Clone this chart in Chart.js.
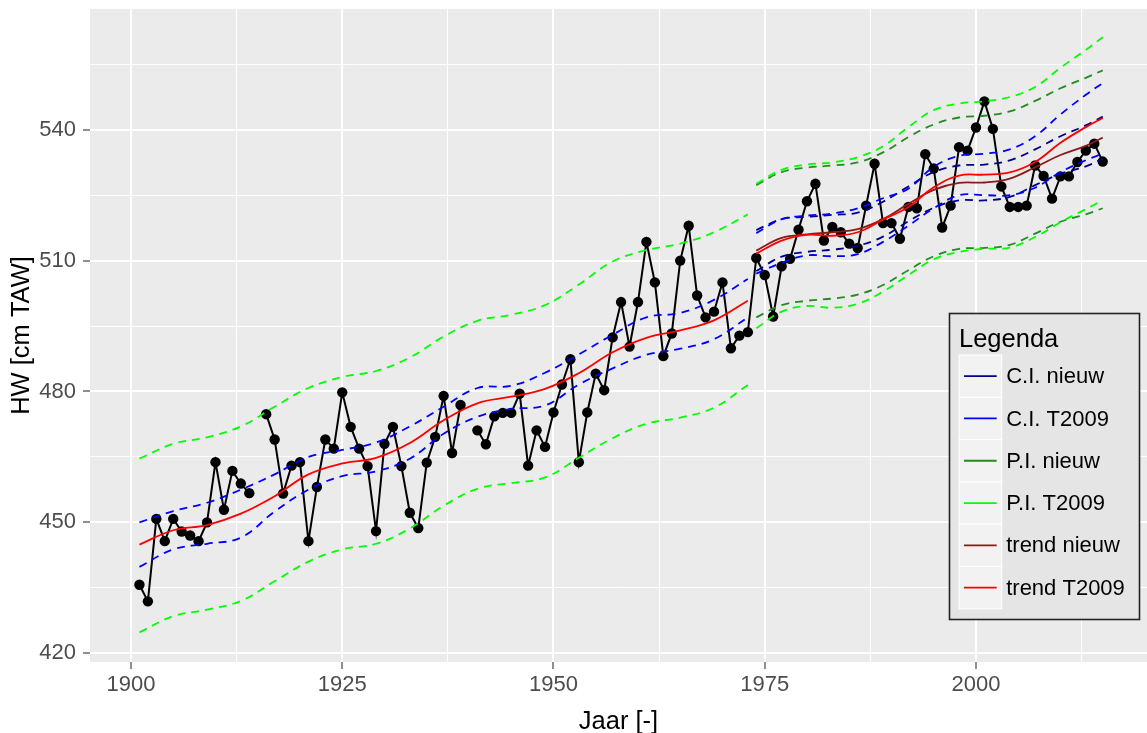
<!DOCTYPE html>
<html>
<head>
<meta charset="utf-8">
<title>HW Oostende</title>
<script src="https://cdn.jsdelivr.net/npm/chart.js@4.4.1/dist/chart.umd.min.js"></script>
<style>
  html, body { margin: 0; padding: 0; background: #ffffff; }
  #wrap { width: 1147px; height: 733px; }
</style>
</head>
<body>
<div id="wrap"><canvas id="hwChart"></canvas></div>
<script>
// jaarlijks gemiddeld hoogwater (cm TAW), 1901 t/m 2015; null = geen meting
const firstYear = 1901;
const obsHW = [
  435.7, 431.9, 450.8, 445.7, 450.8, 447.9, 447.0, 445.7, 450.0, 463.8, // 1901-1910
  452.9, 461.8, 458.9, 456.7, null,  474.8, 469.0, 456.6, 463.0, 463.8, // 1911-1920
  445.7, 458.1, 469.0, 466.9, 479.8, 471.9, 466.9, 462.9, 448.0, 468.0, // 1921-1930
  471.9, 462.9, 452.2, 448.7, 463.7, 469.6, 479.0, 465.9, 476.9, null,  // 1931-1940
  471.1, 467.9, 474.3, 475.1, 475.1, 479.5, 463.0, 471.1, 467.3, 475.2, // 1941-1950
  481.6, 487.4, 463.8, 475.2, 484.1, 480.3, 492.4, 500.5, 490.3, 500.5, // 1951-1960
  514.3, 505.0, 488.1, 493.3, 510.0, 518.0, 502.0, 497.0, 498.3, 505.0, // 1961-1970
  489.9, 492.8, 493.6, 510.6, 506.7, 497.2, 508.7, 510.4, 517.1, 523.6, // 1971-1980
  527.6, 514.6, 517.7, 516.5, 513.9, 512.9, 522.6, 532.2, 518.6, 518.6, // 1981-1990
  515.0, 522.3, 522.0, 534.4, 531.1, 517.6, 522.6, 536.0, 535.2, 540.5, // 1991-2000
  546.5, 540.2, 527.0, 522.3, 522.3, 522.6, 531.8, 529.4, 524.2, 529.3, // 2001-2010
  529.3, 532.6, 535.2, 536.8, 532.7                                     // 2011-2015
];

// model T2009: periode 1 (tot 1973) en periode 2 (vanaf 1974)
const yearsP1 = [1901, 1905, 1909, 1913, 1917, 1921, 1925, 1929, 1933, 1937, 1941, 1945, 1949, 1953, 1957, 1961, 1965, 1969, 1973];
const yearsP2 = [1974, 1977, 1980, 1983, 1986, 1989, 1992, 1995, 1998, 2001, 2004, 2007, 2010, 2013, 2015];

const trendT2009P1 = [444.9, 448.2, 449.4, 452.0, 456.0, 461.0, 463.5, 464.8, 468.2, 473.4, 477.3, 478.8, 480.6, 484.2, 489.0, 492.3, 494.0, 496.3, 500.8];
const ciUpT2009P1  = [450.0, 452.6, 454.5, 457.5, 461.0, 465.0, 466.6, 468.3, 472.0, 476.5, 480.8, 481.3, 484.3, 488.5, 493.0, 497.0, 498.0, 501.0, 505.8];
const ciLoT2009P1  = [439.8, 443.8, 445.1, 446.5, 452.5, 457.5, 460.6, 461.7, 464.6, 470.3, 474.2, 476.0, 476.8, 481.6, 485.3, 488.4, 489.8, 492.0, 497.0];
const piUpT2009P1  = [464.6, 468.0, 469.5, 472.0, 476.5, 480.8, 483.3, 484.7, 487.8, 492.6, 496.2, 497.6, 499.8, 504.5, 509.8, 512.4, 513.9, 516.5, 520.6];
const piLoT2009P1  = [424.8, 428.5, 430.0, 432.0, 436.5, 441.0, 443.8, 445.1, 448.6, 453.8, 457.7, 459.0, 460.3, 464.8, 469.3, 472.6, 474.0, 476.3, 481.5];

const trendT2009P2 = [511.6, 514.6, 515.9, 515.7, 516.5, 519.4, 522.3, 526.8, 529.5, 529.7, 530.2, 532.6, 537.0, 540.6, 542.7];
const ciUpT2009P2  = [516.3, 519.5, 520.3, 520.8, 522.0, 524.3, 526.5, 531.5, 534.0, 534.5, 535.5, 538.5, 543.5, 548.0, 550.7];
const ciLoT2009P2  = [507.0, 509.5, 511.2, 511.0, 511.5, 514.3, 518.0, 522.0, 525.0, 525.0, 525.0, 526.7, 530.3, 533.0, 534.5];
const piUpT2009P2  = [527.6, 530.8, 532.0, 532.5, 533.7, 536.2, 540.6, 544.5, 546.0, 546.5, 547.5, 549.8, 554.2, 558.3, 561.2];
const piLoT2009P2  = [494.5, 498.3, 499.6, 499.2, 500.1, 502.9, 506.7, 510.3, 512.0, 512.7, 513.0, 515.4, 518.8, 521.8, 523.8];

// nieuw model (alleen vanaf 1974)
const trendNieuw = [512.3, 515.2, 516.0, 516.5, 517.2, 519.5, 523.0, 526.2, 527.8, 527.9, 528.8, 531.4, 534.2, 536.3, 538.2];
const ciUpNieuw  = [517.0, 519.5, 520.0, 520.5, 521.0, 523.5, 527.0, 530.3, 531.8, 532.0, 533.0, 535.5, 538.5, 541.0, 543.0];
const ciLoNieuw  = [507.6, 510.9, 512.0, 512.5, 513.4, 515.5, 519.0, 522.1, 523.8, 523.8, 524.6, 527.3, 529.9, 531.6, 533.4];
const piUpNieuw  = [527.3, 530.3, 531.3, 531.8, 532.5, 534.8, 538.3, 541.2, 542.8, 543.2, 544.2, 546.6, 549.5, 551.9, 553.6];
const piLoNieuw  = [497.0, 499.8, 500.8, 501.3, 502.2, 504.4, 507.8, 511.0, 512.7, 512.9, 513.6, 516.2, 518.9, 520.6, 522.0];

// as-indeling (hoofd- en hulplijnen)
const xMajor = [1900, 1925, 1950, 1975, 2000];
const xMinor = [1912.5, 1937.5, 1962.5, 1987.5, 2012.5];
const yMajor = [420, 450, 480, 510, 540];
const yMinor = [435, 465, 495, 525, 555];

const legendTitle = 'Legenda';
const legendLabels = ['C.I. nieuw', 'C.I. T2009', 'P.I. nieuw', 'P.I. T2009', 'trend nieuw', 'trend T2009'];
const legendColors = ['#00008B', '#0000FF', '#228B22', '#00FF00', '#8B1A1A', '#FF0000'];

const FONT = '"Liberation Sans", Arial, sans-serif';

function pts(xs, ys) {
  return xs.map((x, i) => ({ x: x, y: ys[i] }));
}
// beide periodes in een dataset, met een onderbreking tussen 1973 en 1974
function twoPeriods(p1, p2) {
  return pts(yearsP1, p1).concat([{ x: 1973.5, y: null }], pts(yearsP2, p2));
}

const obsData = obsHW.map((v, i) => ({ x: firstYear + i, y: v }));

function curve(label, data, color, dashed) {
  return {
    label: label,
    data: data,
    borderColor: color,
    borderWidth: 1.8,
    borderDash: dashed ? [8, 6] : [],
    pointRadius: 0,
    tension: 0.4,
    spanGaps: false,
    fill: false
  };
}

const datasets = [
  curve('trend T2009', twoPeriods(trendT2009P1, trendT2009P2), legendColors[5], false),
  curve('trend nieuw', pts(yearsP2, trendNieuw), legendColors[4], false),
  curve('C.I. T2009 boven', twoPeriods(ciUpT2009P1, ciUpT2009P2), legendColors[1], true),
  curve('C.I. T2009 onder', twoPeriods(ciLoT2009P1, ciLoT2009P2), legendColors[1], true),
  curve('C.I. nieuw boven', pts(yearsP2, ciUpNieuw), legendColors[0], true),
  curve('C.I. nieuw onder', pts(yearsP2, ciLoNieuw), legendColors[0], true),
  curve('P.I. T2009 boven', twoPeriods(piUpT2009P1, piUpT2009P2), legendColors[3], true),
  curve('P.I. T2009 onder', twoPeriods(piLoT2009P1, piLoT2009P2), legendColors[3], true),
  curve('P.I. nieuw boven', pts(yearsP2, piUpNieuw), legendColors[2], true),
  curve('P.I. nieuw onder', pts(yearsP2, piLoNieuw), legendColors[2], true),
  {
    label: 'HW',
    data: obsData,
    borderColor: '#000000',
    borderWidth: 2,
    backgroundColor: '#000000',
    pointRadius: 5.2,
    pointBorderWidth: 0,
    tension: 0,
    spanGaps: false
  }
];

// grijze ggplot-achtergrond achter het plotvlak
const panelBackground = {
  id: 'panelBackground',
  beforeDraw(chart) {
    const { ctx, chartArea: a } = chart;
    ctx.save();
    ctx.fillStyle = '#EBEBEB';
    ctx.fillRect(a.left, a.top, a.right - a.left, a.bottom - a.top);
    ctx.restore();
  }
};

// legende rechtsonder in het plotvlak
const legendBox = {
  id: 'legendBox',
  afterDraw(chart) {
    const { ctx, chartArea: a } = chart;
    const bx = a.right - 197.5, by = a.bottom - 348.5, bw = 190, bh = 306;
    const keyX = bx + 9.5, keyY = by + 41.5, keyW = 42.7, keyH = 42.3;
    ctx.save();
    ctx.fillStyle = '#E5E5E5';
    ctx.fillRect(bx, by, bw, bh);
    ctx.strokeStyle = '#222222';
    ctx.lineWidth = 1.6;
    ctx.strokeRect(bx, by, bw, bh);

    ctx.fillStyle = '#000000';
    ctx.font = '25.5px ' + FONT;
    ctx.textBaseline = 'alphabetic';
    ctx.textAlign = 'left';
    ctx.fillText(legendTitle, keyX, by + 33.5);

    legendLabels.forEach((lbl, i) => {
      const ky = keyY + i * keyH;
      ctx.fillStyle = '#F2F2F2';
      ctx.fillRect(keyX, ky, keyW, keyH);
      ctx.strokeStyle = '#FFFFFF';
      ctx.lineWidth = 1;
      ctx.strokeRect(keyX, ky, keyW, keyH);
      ctx.strokeStyle = legendColors[i];
      ctx.lineWidth = 1.8;
      ctx.beginPath();
      ctx.moveTo(keyX + 5, ky + keyH / 2);
      ctx.lineTo(keyX + keyW - 5, ky + keyH / 2);
      ctx.stroke();
      ctx.fillStyle = '#000000';
      ctx.font = '22px ' + FONT;
      ctx.textBaseline = 'middle';
      ctx.fillText(lbl, keyX + keyW + 4.5, ky + keyH / 2 + 1);
    });
    ctx.restore();
  }
};

function gridWidth(major) {
  return (c) => (c.tick && major.includes(c.tick.value)) ? 2 : 1;
}
function tickColor(major) {
  return (c) => (c.tick && major.includes(c.tick.value)) ? '#333333' : 'rgba(0,0,0,0)';
}

new Chart(document.getElementById('hwChart'), {
  type: 'line',
  data: { datasets: datasets },
  options: {
    responsive: true,
    maintainAspectRatio: false,
    animation: false,
    layout: { autoPadding: false, padding: { top: 9, right: 0, bottom: 0, left: 0 } },
    plugins: {
      legend: { display: false },
      tooltip: { enabled: false }
    },
    scales: {
      x: {
        type: 'linear',
        min: 1895.15,
        max: 2020.24,
        afterBuildTicks: (axis) => {
          axis.ticks = xMajor.concat(xMinor).sort((a, b) => a - b).map(v => ({ value: v }));
        },
        afterFit: (axis) => {
          axis.height = 71;
          axis.paddingLeft = 0;
          axis.paddingRight = 0;
        },
        border: { display: false },
        grid: {
          color: '#FFFFFF',
          lineWidth: gridWidth(xMajor),
          tickLength: 7,
          tickColor: tickColor(xMajor),
          tickWidth: 1.1
        },
        ticks: {
          autoSkip: false,
          maxRotation: 0,
          padding: 3,
          color: '#4D4D4D',
          font: { family: FONT, size: 22 },
          callback: (v) => xMajor.includes(v) ? String(v) : ''
        },
        title: {
          display: true,
          text: 'Jaar [-]',
          color: '#000000',
          font: { family: FONT, size: 25.5, lineHeight: 0.8 },
          padding: { top: 0, bottom: 1 }
        }
      },
      y: {
        type: 'linear',
        min: 418.0,
        max: 567.67,
        afterBuildTicks: (axis) => {
          axis.ticks = yMajor.concat(yMinor).sort((a, b) => a - b).map(v => ({ value: v }));
        },
        afterFit: (axis) => {
          axis.width = 90;
          axis.paddingTop = 0;
          axis.paddingBottom = 0;
        },
        border: { display: false },
        grid: {
          color: '#FFFFFF',
          lineWidth: gridWidth(yMajor),
          tickLength: 7,
          tickColor: tickColor(yMajor),
          tickWidth: 1.1
        },
        ticks: {
          autoSkip: false,
          padding: 7,
          color: '#4D4D4D',
          font: { family: FONT, size: 22 },
          callback: (v) => yMajor.includes(v) ? String(v) : ''
        },
        title: {
          display: true,
          text: 'HW [cm TAW]',
          color: '#000000',
          font: { family: FONT, size: 25.5, lineHeight: 0.8 },
          padding: { top: 11.5, bottom: 0 }
        }
      }
    }
  },
  plugins: [panelBackground, legendBox]
});
</script>
</body>
</html>
